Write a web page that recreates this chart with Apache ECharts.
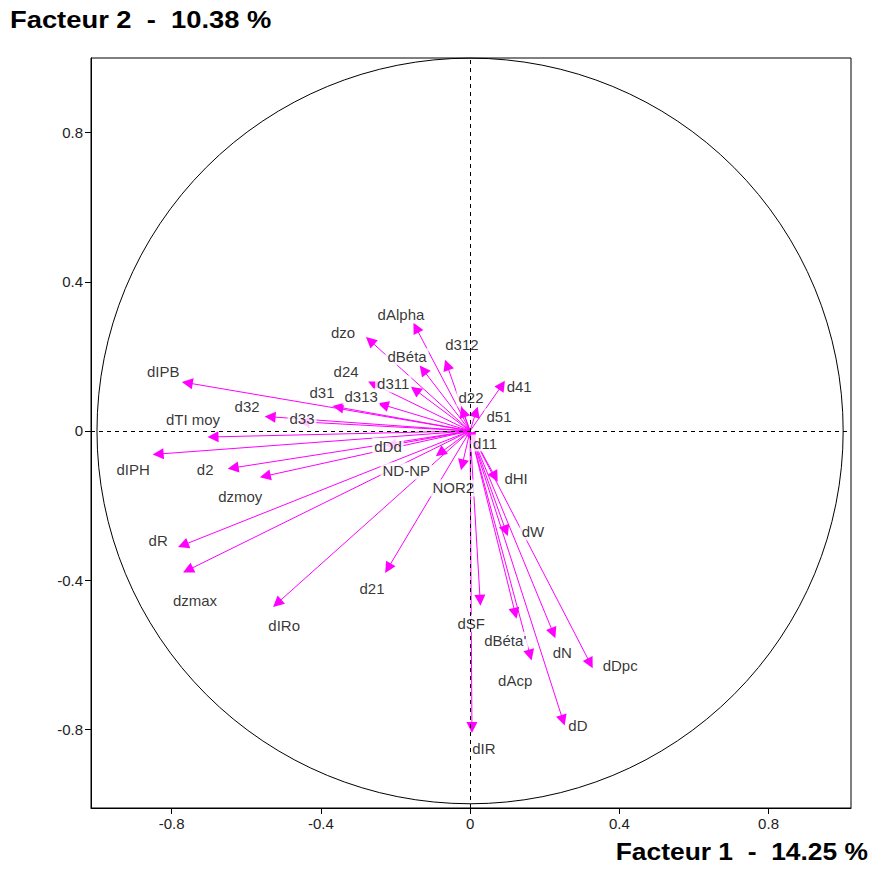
<!DOCTYPE html>
<html>
<head>
<meta charset="utf-8">
<script src="https://cdn.jsdelivr.net/npm/echarts@6/dist/echarts.min.js"></script>
<style>
html,body{margin:0;padding:0;background:#fff;}
#c{width:877px;height:874px;}
</style>
</head>
<body>
<div id="c"></div>
<script>
// ---- data (correlation circle, coordinates on factors 1 and 2) ----
const varNames = ['dAlpha','dzo','dBéta','d312','d311','d24','dIPB','d31','d313','d32','d33','dTI moy','dIPH','d2','dzmoy','dDd','ND-NP','NOR2','dR','dzmax','dIRo','d21','d41','d51','d22','d11','dHI','dW','dSF',"dBéta'",'dAcp','dN','dDpc','dD','dIR'];
const varX = [-0.145,-0.268,-0.126,-0.062,-0.147,-0.260,-0.758,-0.354,-0.233,-0.536,-0.445,-0.689,-0.836,-0.635,-0.549,-0.212,-0.080,-0.021,-0.769,-0.756,-0.517,-0.220,0.086,0.016,-0.019,0.008,0.067,0.096,0.027,0.121,0.161,0.223,0.322,0.249,0.005];
const varY = [0.277,0.242,0.164,0.177,0.110,0.126,0.129,0.064,0.070,0.038,0.024,-0.016,-0.062,-0.099,-0.121,-0.038,-0.059,-0.091,-0.306,-0.373,-0.462,-0.368,0.123,0.051,0.051,-0.019,-0.123,-0.268,-0.454,-0.489,-0.601,-0.542,-0.623,-0.776,-0.795];
const tickValues = [-0.8,-0.4,0,0.4,0.8];
const tickLabels = ['-0.8','-0.4','0','0.4','0.8'];
const xTitle = 'Facteur 1  -  14.25 %';
const yTitle = 'Facteur 2  -  10.38 %';

// ---- label placement (pixel offsets from arrow tip; style only) ----
const labelOffset = {
  'dAlpha':[-15,-13],'dzo':[-27,-8],'dBéta':[-16,-13],'d312':[15,-20],'d311':[-22,-6],'d24':[-27,-12],
  'dIPB':[-24,-11],'d31':[-16,-15],'d313':[-22,-8],'d32':[-23,-10],'d33':[-2,-3],'dTI moy':[-20,-17],
  'dIPH':[-25,15],'d2':[-28,2],'dzmoy':[-25,20],'dDd':[-3,1],'ND-NP':[-34,18],'NOR2':[-9,23],
  'dR':[-25,-5],'dzmax':[7,30],'dIRo':[7,22],'d21':[-16,20],'d41':[17,1],'d51':[23,5],'d22':[8,-14],
  'd11':[12,5],'dHI':[21,2],'dW':[27,1],'dSF':[-9,23],"dBéta'":[-10,27],'dAcp':[-15,25],'dN':[9,19],
  'dDpc':[30,2],'dD':[15,5],'dIR':[12,21]
};

const FONT = 'Arial, "Liberation Sans", sans-serif';
const chart = echarts.init(document.getElementById('c'), null, {renderer:'svg'});

function tickFmt(v){
  const i = tickValues.findIndex(t => Math.abs(t - v) < 1e-9);
  return i >= 0 ? tickLabels[i] : '';
}

const axisCommon = {
  type:'value',
  axisLine:{show:true,onZero:false,lineStyle:{color:'#000',width:1}},
  axisTick:{show:true,inside:false,length:6,customValues:tickValues,lineStyle:{color:'#000',width:1}},
  axisLabel:{customValues:tickValues,formatter:tickFmt,margin:8,fontSize:15,color:'#222',fontFamily:FONT},
  splitLine:{show:false}
};

const option = {
  animation:false,
  backgroundColor:'#fff',
  grid:{left:91,top:58,width:760,height:750,show:true,borderColor:'#000',borderWidth:1,backgroundColor:'transparent'},
  xAxis:Object.assign({}, axisCommon, {min:-1.016,max:1.021}),
  yAxis:Object.assign({}, axisCommon, {min:-1.011,max:1.0}),
  series:[
    {
      type:'custom', silent:true, z:1, data:[[0,0]],
      renderItem:function(params, api){
        const c = api.coord([0,0]);
        const ex = api.coord([1,0]);
        const ey = api.coord([0,1]);
        const rx = ex[0]-c[0], ry = c[1]-ey[1];
        return {
          type:'path',
          shape:{pathData:'M0,50 A50,50 0 1 0 100,50 A50,50 0 1 0 0,50 Z', x:c[0]-rx, y:c[1]-ry, width:2*rx, height:2*ry, layout:'cover'},
          style:{fill:'none',stroke:'#000',lineWidth:1}
        };
      }
    },
    {
      type:'line', data:[], z:1, silent:true,
      markLine:{
        silent:true, symbol:'none', animation:false,
        label:{show:false},
        lineStyle:{color:'#000',width:1,type:[4,4]},
        data:[{xAxis:0},{yAxis:0}]
      }
    },
    {
      type:'lines', coordinateSystem:'cartesian2d', z:2, silent:true,
      symbol:['none','triangle'], symbolSize:[0,11],
      lineStyle:{color:'#ff00ff',width:1,opacity:1},
      itemStyle:{color:'#ff00ff'},
      data: varNames.map((n,i)=>({name:n, coords:[[0,0],[varX[i],varY[i]]]}))
    },
    {
      type:'scatter', z:3, silent:true, symbolSize:0,
      label:{show:true,position:'inside',formatter:'{b}',color:'#000',fontSize:15,fontFamily:FONT,backgroundColor:'#fff',padding:[1,2]},
      data: varNames.map((n,i)=>({name:n, value:[varX[i],varY[i]], label:{offset:labelOffset[n]}}))
    }
  ],
  graphic:[
    {type:'text', x:10, y:20, scaleX:1.14, style:{text:yTitle, font:'bold 24px '+FONT, fill:'#000', align:'left', verticalAlign:'middle'}},
    {type:'text', x:868, y:851, scaleX:1.10, style:{text:xTitle, font:'bold 24px '+FONT, fill:'#000', align:'right', verticalAlign:'middle'}}
  ]
};
chart.setOption(option);
</script>
</body>
</html>
